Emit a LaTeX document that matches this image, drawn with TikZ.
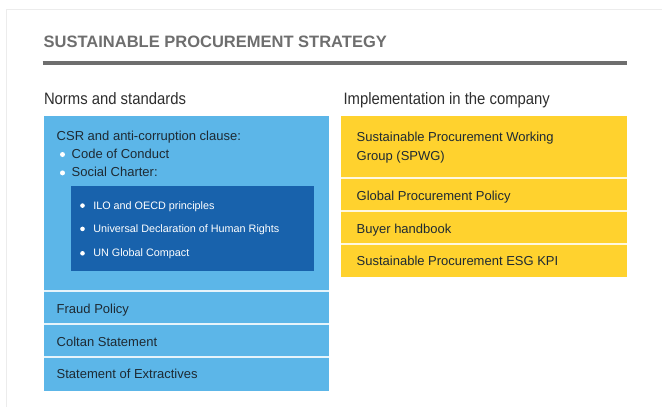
\documentclass[tikz,border=0pt]{standalone}
\usepackage{fontspec}
\setmainfont{Liberation Sans}
\newfontfamily\headfont{Liberation Sans}[FakeStretch=0.9]
\definecolor{framecol}{HTML}{ECECEC}
\definecolor{titlecol}{HTML}{6E6E6E}
\definecolor{headcol}{HTML}{2E2E2E}
\definecolor{lightblue}{HTML}{5CB6E8}
\definecolor{darkblue}{HTML}{1862AC}
\definecolor{yellowbox}{HTML}{FFD22E}
\definecolor{boxtext}{HTML}{1E2A33}
\tikzset{
  sec/.style={anchor=north west, inner sep=0pt, outer sep=0pt, minimum width=#1},
  bluesec/.style={sec=285pt, fill=lightblue},
  yellowsec/.style={sec=286pt, fill=yellowbox},
  innerbox/.style={anchor=north west, inner sep=0pt, outer sep=0pt, fill=darkblue, minimum width=243pt, minimum height=85pt},
  sepline/.style={white, line width=1.2pt, opacity=0.85},
  txt/.style={anchor=base west, inner sep=0pt, outer sep=0pt, text=boxtext, font=\fontsize{13}{15}\selectfont},
  smalltxt/.style={anchor=base west, inner sep=0pt, outer sep=0pt, text=white, font=\fontsize{10.8}{13}\selectfont},
  head/.style={anchor=base west, inner sep=0pt, outer sep=0pt, text=headcol, font=\headfont\fontsize{16.5}{18}\selectfont},
  bul/.style={circle, fill=white, inner sep=0pt, minimum size=5pt},
}
\begin{document}
\begin{tikzpicture}[x=1pt, y=-1pt]
\useasboundingbox (0,0) rectangle (662,407);
\fill[white] (0,0) rectangle (662,407);
\draw[framecol, line width=1pt] (6.5,407) -- (6.5,9.5) -- (662,9.5);
% title
\node[anchor=base west, inner sep=0pt, text=titlecol, font=\fontsize{16.5}{19}\selectfont\bfseries] (title) at (43.5,47) {SUSTAINABLE PROCUREMENT STRATEGY};
\coordinate (rulel) at (42.5,63.2);
\coordinate (ruler) at (626.5,63.2);
\draw[titlecol, line width=3.6pt] (rulel) -- (ruler);
% headings
\node[head] (hnorms) at (44,104.3) {Norms and standards};
\node[head] (himpl) at (343.5,104.3) {Implementation in the company};
% blue column
\node[bluesec, minimum height=175pt] (csr) at (44,116) {};
\node[bluesec, minimum height=33pt] (fraud) at (44,291) {};
\node[bluesec, minimum height=33pt] (coltan) at (44,324) {};
\node[bluesec, minimum height=33.5pt] (extr) at (44,357) {};
\draw[sepline] (fraud.north west) -- (fraud.north east);
\draw[sepline] (coltan.north west) -- (coltan.north east);
\draw[sepline] (extr.north west) -- (extr.north east);
\node[innerbox] (charter) at (71,186) {};
% blue texts
\node[txt] (tcsr) at (56.7,140) {CSR and anti-corruption clause:};
\node[bul] (b1) at (62.5,154.5) {};
\node[txt] (tcode) at (71.7,158.3) {Code of Conduct};
\node[bul] (b2) at (62.5,172.9) {};
\node[txt] (tsocial) at (71.7,176.7) {Social Charter:};
\node[bul, minimum size=4.6pt] (b3) at (82.5,205.6) {};
\node[smalltxt] (tilo) at (93.3,209) {ILO and OECD principles};
\node[bul, minimum size=4.6pt] (b4) at (82.5,228.9) {};
\node[smalltxt] (tudhr) at (93.3,232.3) {Universal Declaration of Human Rights};
\node[bul, minimum size=4.6pt] (b5) at (82.5,253.3) {};
\node[smalltxt] (tun) at (93.3,256.7) {UN Global Compact};
\node[txt] (tfraud) at (56.7,313.3) {Fraud Policy};
\node[txt] (tcoltan) at (56.7,346.7) {Coltan Statement};
\node[txt] (textr) at (56.7,378.6) {Statement of Extractives};
% yellow column
\node[yellowsec, minimum height=62pt] (spwg) at (341,116) {};
\node[yellowsec, minimum height=33pt] (gpp) at (341,178) {};
\node[yellowsec, minimum height=33pt] (buyer) at (341,211) {};
\node[yellowsec, minimum height=33pt] (esg) at (341,244) {};
\draw[sepline] (gpp.north west) -- (gpp.north east);
\draw[sepline] (buyer.north west) -- (buyer.north east);
\draw[sepline] (esg.north west) -- (esg.north east);
\node[txt] (tspwg1) at (356.7,141.7) {Sustainable Procurement Working};
\node[txt] (tspwg2) at (356.7,160) {Group (SPWG)};
\node[txt] (tgpp) at (356.7,200) {Global Procurement Policy};
\node[txt] (tbuyer) at (356.7,233) {Buyer handbook};
\node[txt] (tesg) at (356.7,265.7) {Sustainable Procurement ESG KPI};
\end{tikzpicture}
\end{document}
